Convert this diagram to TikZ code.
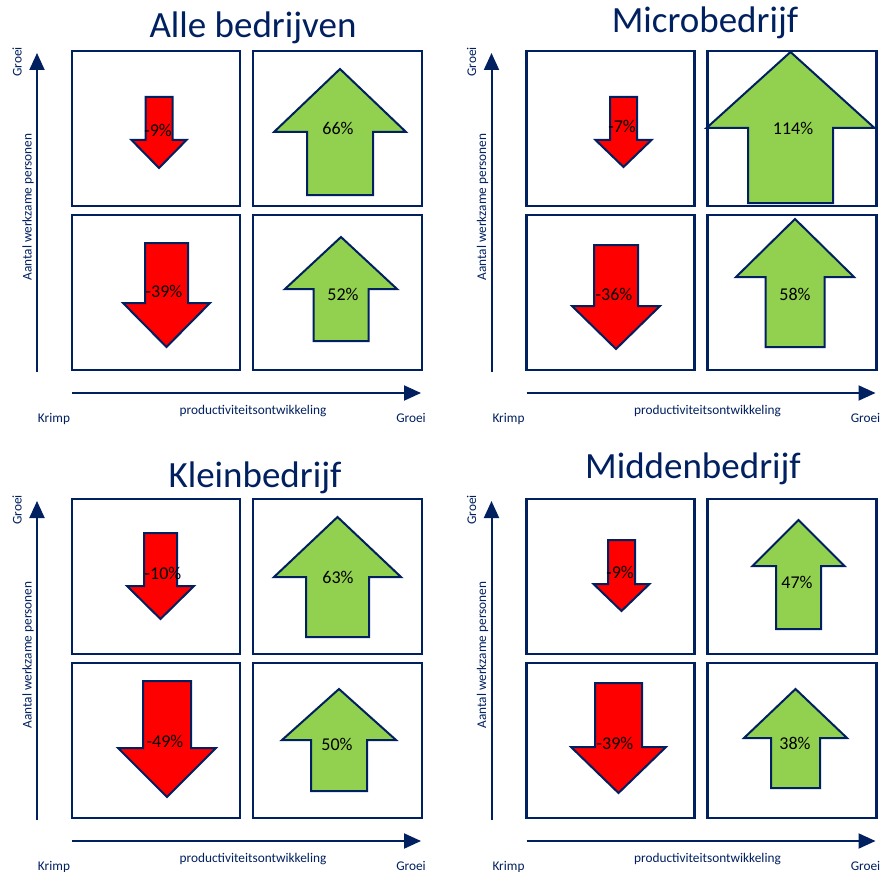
\documentclass[tikz,border=0pt]{standalone}
\usepackage{fontspec}
\setmainfont{Carlito}
\usetikzlibrary{arrows.meta}
\definecolor{dblue}{HTML}{002060}
\definecolor{agreen}{HTML}{92D050}
\definecolor{ared}{HTML}{FF0000}
\tikzset{
  boxst/.style={draw=dblue, line width=2.2pt},
  axisst/.style={draw=dblue, line width=2pt, -{Triangle[length=17pt,width=15pt]}},
  arrowshape/.style={draw=dblue, line width=2pt, line join=miter},
  smalltxt/.style={text=dblue, font=\fontsize{13.3}{16}\selectfont, inner sep=0pt},
  titletxt/.style={text=dblue, font=\fontsize{37}{44}\selectfont, inner sep=0pt, anchor=base},
  pcttxt/.style={text=black, font=\fontsize{18}{21}\selectfont, inner sep=0pt}
}
\newcommand\quadpanel[3]{%
  \begin{scope}[shift={(#1,#2)}]
    \draw[boxst] (72,51) rectangle (240,206);
    \draw[boxst] (253,51) rectangle (422,206);
    \draw[boxst] (72,215) rectangle (240,370);
    \draw[boxst] (253,215) rectangle (422,370);
    \coordinate (#3ya) at (37,372);
    \coordinate (#3yb) at (37,53);
    \coordinate (#3xa) at (72,393);
    \coordinate (#3xb) at (421,393);
    \draw[axisst] (#3ya) -- (#3yb);
    \draw[axisst] (#3xa) -- (#3xb);
    \node[smalltxt, anchor=base] (#3krimp) at (54,422) {Krimp};
    \node[smalltxt, anchor=base] (#3prod) at (253,414) {productiviteitsontwikkeling};
    \node[smalltxt, anchor=base] (#3groeix) at (411,422) {Groei};
    \node[smalltxt, rotate=90] (#3groeiy) at (17,62) {Groei};
    \node[smalltxt, rotate=90] (#3aantal) at (28,207) {Aantal werkzame personen};
  \end{scope}}
\newcommand\pct[3]{\node[pcttxt] (#1) at (#2) {#3};}
% red arrows: cx, half shaft, top, wing y, half wing, tip
\newcommand\downarr[6]{\draw[arrowshape, fill=ared] ({#1-#2},#3) -- ({#1+#2},#3) -- ({#1+#2},#4) -- ({#1+#5},#4) -- (#1,#6) -- ({#1-#5},#4) -- ({#1-#2},#4) -- cycle;}
% green arrows: cx, half shaft, bottom, wing y, half wing, tip
\newcommand\uparr[6]{\draw[arrowshape, fill=agreen] ({#1-#2},#3) -- ({#1+#2},#3) -- ({#1+#2},#4) -- ({#1+#5},#4) -- (#1,#6) -- ({#1-#5},#4) -- ({#1-#2},#4) -- cycle;}
\begin{document}
\begin{tikzpicture}[x=1pt,y=-1pt]
\useasboundingbox (0,0) rectangle (881,872);
\fill[white] (0,0) rectangle (881,872);

\quadpanel{0}{0}{tl}
\quadpanel{454.5}{0}{tr}
\quadpanel{0}{448}{bl}
\quadpanel{454.5}{448}{br}

\node[titletxt] (t1) at (253,38) {Alle bedrijven};
\node[titletxt] (t2) at (705,33) {Microbedrijf};
\node[titletxt] (t3) at (255,487) {Kleinbedrijf};
\node[titletxt] (t4) at (693,478) {Middenbedrijf};

% Alle bedrijven
\downarr{159}{13.5}{97}{140}{27.5}{168}
\uparr{340}{33}{195}{132}{66}{69}
\downarr{166.5}{21.5}{243}{303}{43.5}{347}
\uparr{341}{27.5}{341}{289}{56}{237}
\pct{p1}{158,130}{-9\%}
\pct{p2}{338,128}{66\%}
\pct{p3}{164,291}{-39\%}
\pct{p4}{343,294}{52\%}

% Microbedrijf
\downarr{623.5}{13.5}{97}{140}{28}{167}
\uparr{790.5}{42.5}{203}{128}{84}{52}
\downarr{616}{22}{245}{306}{44}{349}
\uparr{795}{29.5}{347}{277}{59}{219}
\pct{p5}{622,126}{-7\%}
\pct{p6}{793,128}{114\%}
\pct{p7}{614,294}{-36\%}
\pct{p8}{795,294}{58\%}

% Kleinbedrijf
\downarr{160.5}{16.5}{533}{586}{33.5}{619}
\uparr{337.5}{31.5}{637}{577}{63.5}{517}
\downarr{167}{24}{681}{748}{49}{797}
\uparr{339}{28}{791}{740}{57}{689}
\pct{p9}{163,573}{-10\%}
\pct{p10}{338,577}{63\%}
\pct{p11}{165,741}{-49\%}
\pct{p12}{337,744}{50\%}

% Middenbedrijf
\downarr{621.5}{13.5}{540}{584}{28}{611}
\uparr{798.5}{22.5}{629}{566}{46}{520}
\downarr{618.5}{23.5}{683}{747}{47.5}{793}
\uparr{795.5}{24.5}{788}{738}{51.5}{689}
\pct{p13}{620,572}{-9\%}
\pct{p14}{797,582}{47\%}
\pct{p15}{615,743}{-39\%}
\pct{p16}{795,743}{38\%}
\end{tikzpicture}
\end{document}
